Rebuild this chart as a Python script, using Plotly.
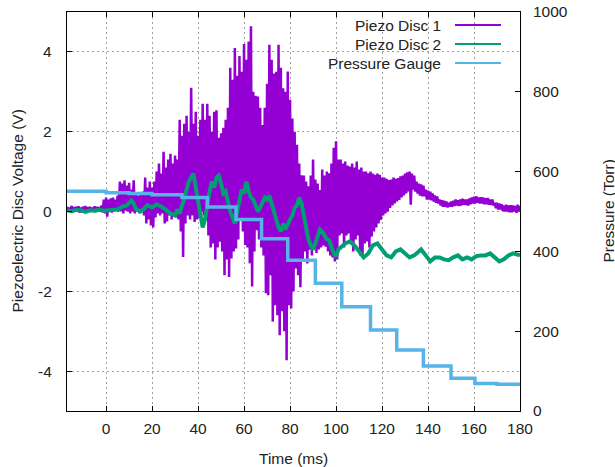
import plotly.graph_objects as go

# ---------------- data ----------------
# Piezo Disc 1: per-millisecond upper / lower extremes of the oscillation (V)
P1_T = list(range(-17, 181))
P1_TOP = [
    0.12, 0.10, 0.14, 0.11, 0.12, 0.13, 0.10, 0.12, 0.14, 0.11, 0.12, 0.10, 0.13, 0.12, 0.11, 0.15,
    0.30, 0.35, 0.30, 0.33, 0.35, 0.30, 0.40,
    0.75, 0.70, 0.78, 0.65, 0.72, 0.55, 0.78,
    0.45, 0.40, 0.42, 0.50,
    0.85, 0.60,
    0.75, 0.60, 0.75, 1.00,
    1.20, 0.95, 1.50, 1.10,
    1.30, 1.45, 1.20, 1.40, 1.30,
    2.30, 1.90, 2.20, 2.40, 2.00,
    3.10, 2.20, 2.50, 1.90, 2.30,
    2.70, 2.30, 2.70, 2.40, 2.00,
    2.50, 2.54, 1.85, 1.96, 2.10, 2.30, 2.60, 3.60, 3.30, 4.10,
    3.40, 3.90, 3.50, 4.20, 3.80, 4.26, 4.64, 3.00, 2.90, 2.88,
    2.60, 2.17, 2.60, 3.20, 4.18, 3.80, 3.46, 3.50, 4.18, 3.60,
    3.09, 3.00, 3.51, 2.80, 2.33, 2.00, 1.67, 1.20, 0.91, 0.90,
    0.75, 0.63, 0.90, 1.30, 0.80, 0.70, 0.54, 1.05, 0.90, 1.00,
    0.96, 1.20, 1.60, 1.76,
    1.30, 1.30, 1.20, 1.25, 1.15, 1.13, 1.20, 1.10, 1.25, 1.05,
    1.10, 1.00, 1.00, 0.96, 1.00, 0.95, 0.92, 0.95, 0.92, 0.85,
    0.85, 0.82, 0.79, 0.80, 0.85, 0.82, 0.84, 0.88, 0.90, 0.95,
    0.98, 1.00, 0.95, 0.90, 0.75,
    0.70, 0.68, 0.65, 0.55, 0.52, 0.50, 0.45, 0.40, 0.38, 0.30,
    0.28, 0.27, 0.25, 0.22, 0.25, 0.27, 0.30, 0.28, 0.30, 0.32,
    0.30, 0.30, 0.33, 0.35, 0.37, 0.38, 0.35, 0.36, 0.35, 0.33,
    0.34, 0.30, 0.30, 0.22, 0.22, 0.20, 0.18, 0.15, 0.17, 0.15,
    0.16, 0.15, 0.14, 0.17, 0.14,
]
P1_BOT = [
    0.00, 0.02, -0.02, 0.01, 0.00, -0.03, 0.02, 0.00, -0.02, 0.01, 0.00, 0.03, -0.01, 0.00, 0.02, -0.02,
    -0.05, -0.13, 0.00, -0.03, 0.05, 0.02, 0.00,
    0.00, -0.05, 0.02, 0.00, -0.05, 0.00, -0.05,
    0.00, -0.05, 0.00, -0.10,
    -0.30, -0.20,
    -0.35, -0.40, -0.15, -0.05,
    -0.10, -0.05, -0.30, -0.25,
    -0.10, -0.20, -0.05, -0.15, -0.20,
    -0.50, -1.14, -0.30, -0.10, -0.20,
    -0.10, -0.26, -0.20, -0.15, 0.00,
    -0.10, -0.20, -0.60, -0.90, -0.80,
    -1.20, -0.90, -0.76, -1.00, -1.60, -1.20, -1.64, -1.18, -1.00, -0.93,
    -0.70, -0.20, -0.50, -0.84, -0.90, -1.30, -1.88, -1.00, -0.47, -0.70,
    -0.90, -1.10, -2.05, -2.10, -1.60, -2.76, -2.35, -2.60, -3.10, -2.50,
    -3.00, -3.73, -2.35, -2.43, -2.00, -1.43, -1.60, -1.90, -1.20, -1.00,
    -1.30, -0.96, -1.10, -0.90, -1.04, -0.95, -0.90, -0.85, -0.88, -1.00,
    -1.10, -1.15, -1.25, -1.20,
    -0.60, -0.55, -0.90, -0.60, -0.55, -0.80, -1.00, -0.70, -0.60, -1.10,
    -1.13, -0.80, -0.75, -0.90, -0.63, -0.50, -0.40, -0.30, -0.21, -0.10,
    -0.05, 0.00, 0.09, 0.15, 0.20, 0.25, 0.29, 0.35, 0.40, 0.45,
    0.50, 0.17, 0.55, 0.50, 0.45,
    0.40, 0.38, 0.38, 0.30, 0.30, 0.28, 0.25, 0.22, 0.20, 0.15,
    0.12, 0.12, 0.10, 0.12, 0.12, 0.14, 0.15, 0.14, 0.15, 0.17,
    0.16, 0.15, 0.18, 0.20, 0.20, 0.22, 0.20, 0.20, 0.18, 0.18,
    0.17, 0.16, 0.15, 0.08, 0.05, 0.05, 0.02, 0.00, 0.00, -0.02,
    -0.02, 0.00, -0.03, 0.00, -0.02,
]

# Piezo Disc 2 (V)
G_T = [-17, -15, -13, -11, -9, -7, -5, -3, -1, 1, 3, 5,
       7, 9, 11, 12, 13, 15, 16, 18, 20, 22, 24, 26, 28, 30, 31, 32, 33, 34,
       35, 36, 37, 38, 39, 40, 41, 42, 43, 44, 45, 46, 47, 48, 49, 50, 51, 52,
       53, 54, 55, 56, 57, 58, 59, 60, 61, 62, 63, 64, 65, 66, 67, 68, 69, 70,
       71, 72, 73, 74, 75, 76, 77, 78, 79, 80, 81, 82, 83, 84, 85, 86, 87, 88,
       89, 90, 91, 92, 93, 94, 95, 96, 97, 98, 99, 100, 101, 102, 104, 106, 108, 110,
       112, 114, 116, 118, 120, 122, 124, 126, 128, 130, 132, 134, 136, 137, 139, 141,
       143, 145, 147, 149, 151, 153, 155, 157, 159, 161, 163, 165, 167, 169, 171, 173,
       175, 177, 179, 180]
G_V = [0.03, 0.01, 0.04, 0.03, -0.01, 0.03, 0.02, 0.04, 0.02, 0.03, 0.04, 0.05,
       0.12, 0.15, 0.28, 0.20, 0.06, 0.00, 0.04, 0.16, 0.10, 0.18, 0.12, 0.05, -0.05, -0.10, 0.05, -0.05, 0.15, 0.30,
       0.55, 0.75, 0.85, 0.95, 0.60, 0.30, 0.00, -0.40, -0.20, 0.20, 0.50, 0.75, 0.60, 0.85, 0.90, 0.70, 0.45, 0.50,
       0.20, 0.00, -0.15, -0.30, 0.00, 0.30, 0.55, 0.45, 0.75, 0.50, 0.35, 0.30, 0.15, 0.00, 0.10, 0.20, 0.35, 0.30,
       0.40, 0.20, 0.00, -0.20, -0.40, -0.50, -0.30, -0.45, -0.30, -0.20, -0.10, 0.10, 0.15, 0.35, 0.20, -0.10, -0.40, -0.70,
       -0.85, -0.95, -0.80, -0.60, -0.45, -0.50, -0.60, -0.70, -0.72, -0.90, -1.05, -1.13, -0.95, -0.90, -0.80, -0.75, -0.85, -1.00,
       -1.15, -1.05, -0.85, -0.80, -0.95, -1.10, -1.15, -1.00, -0.95, -1.05, -1.15, -1.10, -1.00, -0.95, -1.10, -1.25,
       -1.15, -1.15, -1.20, -1.22, -1.15, -1.10, -1.20, -1.15, -1.20, -1.12, -1.10, -1.10, -1.05, -1.15, -1.25, -1.20,
       -1.10, -1.05, -1.10, -1.10]

# Pressure gauge (Torr), stepwise readings
PR_T = [-17, 0, 10, 20, 33, 44, 56.5, 67.6, 79, 91, 102.5, 115, 126.4, 138, 150, 160.4, 170, 180]
PR_V = [551, 547, 545, 542, 535, 511, 480, 432, 378, 320, 261, 203, 153, 113, 82, 69, 67, 67]

SERIES_NAMES = ["Piezo Disc 1", "Piezo Disc 2", "Pressure Gauge"]
COLORS = ["#9400d3", "#009e73", "#56b4e9"]
X_TICKS = [0, 20, 40, 60, 80, 100, 120, 140, 160, 180]
Y_TICKS = [-4, -2, 0, 2, 4]
Y2_TICKS = [0, 200, 400, 600, 800, 1000]

assert len(P1_T) == len(P1_TOP) == len(P1_BOT)
assert len(G_T) == len(G_V)

# interleave upper/lower extremes into the oscillating trace
p1x, p1y = [], []
for t, hi, lo in zip(P1_T, P1_TOP, P1_BOT):
    p1x += [t, t + 0.5]
    p1y += [hi, lo]

FONT = "Liberation Sans, Arial, sans-serif"
TXT = "#222222"

fig = go.Figure()
fig.add_trace(go.Scatter(x=p1x, y=p1y, mode="lines", name=SERIES_NAMES[0],
                         line=dict(color=COLORS[0], width=2.5), showlegend=False))
fig.add_trace(go.Scatter(x=G_T, y=G_V, mode="lines", name=SERIES_NAMES[1],
                         line=dict(color=COLORS[1], width=4), showlegend=False))
fig.add_trace(go.Scatter(x=PR_T, y=PR_V, mode="lines", name=SERIES_NAMES[2], yaxis="y2",
                         line=dict(color=COLORS[2], width=3.5, shape="hv"), showlegend=False))

L, R, T, B = 67, 95, 12, 56
W, H = 615, 467
pw, ph = W - L - R, H - T - B

def px2x(px):
    return (px - L) / pw

def py2y(py):
    return (H - B - py) / ph

grid = dict(showgrid=True, gridcolor="#a0a0a0", gridwidth=1, griddash="2px,3px")

fig.update_layout(
    width=W, height=H,
    margin=dict(l=L, r=R, t=T, b=B, autoexpand=False),
    paper_bgcolor="white", plot_bgcolor="white",
    font=dict(family=FONT, size=15.5, color=TXT),
    xaxis=dict(range=[-17, 180], tickvals=X_TICKS, ticks="inside", ticklen=5,
               tickcolor="black", showline=True, linecolor="black", linewidth=1,
               mirror="ticks", zeroline=False, automargin=False,
               ticklabelstandoff=3, **grid),
    yaxis=dict(range=[-5, 5], tickvals=Y_TICKS, showticklabels=False,
               ticks="inside", ticklen=5, tickcolor="black", showline=True,
               linecolor="black", linewidth=1, mirror=True, zeroline=False,
               automargin=False, **grid),
    yaxis2=dict(range=[0, 1000], tickvals=Y2_TICKS, overlaying="y", side="right",
                ticks="inside", ticklen=5, tickcolor="black", showgrid=False,
                showline=False, zeroline=False, automargin=False,
                ticklabelstandoff=12),
)

# left-axis tick labels (hyphen minus, right-aligned beside the axis)
for v in Y_TICKS:
    fig.add_annotation(text=str(v), x=px2x(54), y=v, xref="paper", yref="y",
                       showarrow=False, xanchor="right", yanchor="middle")

# axis titles
fig.add_annotation(text="Time (ms)", x=0.5, y=py2y(458), xref="paper", yref="paper",
                   showarrow=False, yanchor="middle")
fig.add_annotation(text="Piezoelectric Disc Voltage (V)", x=px2x(17), y=0.5, xref="paper",
                   yref="paper", showarrow=False, textangle=-90,
                   xanchor="center", yanchor="middle")
fig.add_annotation(text="Pressure (Torr)", x=px2x(608), y=0.5, xref="paper",
                   yref="paper", showarrow=False, textangle=-90,
                   xanchor="center", yanchor="middle")

# key (text on the left, line sample on the right)
fig.add_shape(type="rect", xref="paper", yref="paper", x0=px2x(307), x1=px2x(515),
              y0=py2y(73), y1=1, fillcolor="white", line=dict(width=0), layer="between")
for i, (name, col) in enumerate(zip(SERIES_NAMES, COLORS)):
    yy = py2y(25 + 19 * i)
    fig.add_annotation(text=name, x=px2x(443), y=yy, xref="paper", yref="paper",
                       showarrow=False, xanchor="right", yanchor="middle")
    fig.add_shape(type="line", xref="paper", yref="paper", x0=px2x(455), x1=px2x(501),
                  y0=yy, y1=yy, line=dict(color=col, width=2))

fig.write_html("out.html", config={"displayModeBar": False},
               post_script="document.body.style.margin='0';")
